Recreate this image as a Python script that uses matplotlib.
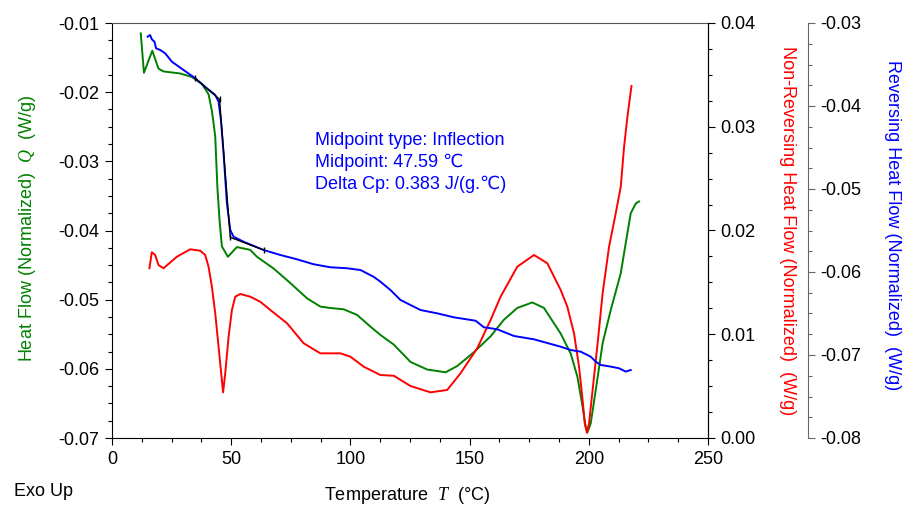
import matplotlib
matplotlib.use("Agg")
import matplotlib.pyplot as plt
from matplotlib.ticker import AutoMinorLocator, MultipleLocator, FormatStrFormatter

plt.rcParams['font.family'] = ['Liberation Sans', 'DejaVu Sans']
plt.rcParams['mathtext.fontset'] = 'custom'
plt.rcParams['mathtext.it'] = 'Liberation Serif:italic'
plt.rcParams['mathtext.rm'] = 'Liberation Sans'

# ---- data ----
green_T = [12.06, 13.4, 16.9, 19.5, 21.6, 28.6, 33.5, 37.7, 40.5, 41.9, 42.6, 43.3, 44.2, 45.1,
           46.1, 48.6, 52.4, 58.0, 60.8, 67.8, 74.8, 81.8, 87.4, 91.6, 97.2, 102.8, 108.4,
           112.6, 118.2, 125.2, 132.2, 139.9, 144.8, 151.8, 158.8, 164.4, 170.0, 176.3, 181.2,
           188.2, 192.4, 195.2, 197.4, 198.7, 199.4, 200.8, 202.9, 205.8, 209.2, 213.4, 215.5,
           217.6, 219.7, 221.1]
green_Q = [-0.0115, -0.0172, -0.0140, -0.0166, -0.0170, -0.0173, -0.0178, -0.0188, -0.0203,
           -0.0227, -0.0245, -0.0264, -0.0337, -0.0385, -0.0423, -0.0438, -0.0424, -0.0428,
           -0.0438, -0.0455, -0.0476, -0.0498, -0.0510, -0.0512, -0.0514, -0.0522, -0.0539,
           -0.0551, -0.0565, -0.0590, -0.0601, -0.0605, -0.0596, -0.0576, -0.0553, -0.0529,
           -0.0512, -0.0504, -0.0512, -0.0549, -0.0578, -0.0611, -0.0655, -0.0684, -0.0692,
           -0.0679, -0.0631, -0.0563, -0.0515, -0.0462, -0.0418, -0.0375, -0.0361, -0.0358]

red_T = [15.7, 16.7, 18.1, 19.5, 21.6, 27.2, 32.8, 37.0, 39.1, 40.5, 41.9, 43.3, 44.7, 45.8,
         46.6, 47.5, 48.9, 50.3, 51.7, 53.8, 58.0, 62.2, 66.4, 73.4, 80.4, 87.4, 95.8, 100.0,
         105.6, 112.6, 118.2, 125.2, 133.6, 140.6, 146.2, 153.2, 158.8, 163.0, 170.0, 177.0,
         182.6, 188.2, 191.0, 193.8, 195.9, 197.4, 198.3, 199.2, 200.1, 201.6, 203.7, 205.8,
         208.5, 211.3, 213.4, 214.8, 216.2, 217.9]
red_R = [0.01636, 0.0179, 0.01764, 0.01667, 0.01636, 0.01747, 0.01819, 0.01805, 0.01764,
         0.01651, 0.01458, 0.01202, 0.0088, 0.00624, 0.0044, 0.00624, 0.00976, 0.01234,
         0.01362, 0.01388, 0.01362, 0.01313, 0.01234, 0.01106, 0.00913, 0.00816, 0.00816,
         0.00784, 0.00687, 0.00607, 0.0060, 0.00501, 0.0044, 0.00463, 0.00624, 0.00865,
         0.01137, 0.01362, 0.01651, 0.01764, 0.01684, 0.01427, 0.01265, 0.01009, 0.00687,
         0.00366, 0.00142, 0.00051, 0.00142, 0.00463, 0.00913, 0.01395, 0.01844, 0.02166,
         0.02422, 0.02808, 0.03097, 0.03393]

blue_T = [14.96, 15.97, 16.7, 17.8, 18.5, 20.2, 22.3, 25.1, 30.0, 34.9, 39.8, 43.3, 44.7,
          45.7, 46.8, 48.2, 49.6, 51.0, 55.2, 63.6, 70.6, 77.6, 84.6, 91.6, 98.6, 104.2,
          109.7, 112.6, 116.8, 121.0, 129.4, 136.4, 143.4, 152.5, 156.0, 161.6, 168.6, 177.0,
          188.2, 192.4, 196.6, 200.8, 202.9, 205.0, 209.2, 212.7, 215.5, 217.6]
blue_B = [-0.03165, -0.03145, -0.03196, -0.03225, -0.03305, -0.03325, -0.03365, -0.03466,
          -0.03566, -0.03666, -0.03787, -0.03867, -0.03948, -0.04169, -0.0457, -0.05172,
          -0.05494, -0.05575, -0.05635, -0.05735, -0.05795, -0.05847, -0.05907, -0.05943,
          -0.05955, -0.05976, -0.06057, -0.06117, -0.06217, -0.06337, -0.06458, -0.06498,
          -0.06546, -0.06587, -0.06666, -0.0669, -0.06771, -0.06811, -0.06900, -0.06940,
          -0.06960, -0.07020, -0.07080, -0.07120, -0.07140, -0.07160, -0.07200, -0.07181]

tan_T = [34.9, 45.1, 49.6, 63.6]
tan_B = [-0.03666, -0.03919, -0.05582, -0.05735]

annot_lines = ["Midpoint type: Inflection", "Midpoint: 47.59 \u2103", "Delta Cp: 0.383 J/(g.\u2103)"]

GREEN = '#008000'
RED = '#ff0000'
BLUE = '#0000ff'
FS = 13

fig = plt.figure(figsize=(9.04, 5.07), dpi=100)
W = 708 - 112
ax = fig.add_axes([112/904, 1-438/507, W/904, (438-23)/507])
ax2 = ax.twinx()
ax3 = ax.twinx()
ax3.spines['right'].set_position(('axes', (808-112)/W))

ax.plot(green_T, green_Q, color=GREEN, lw=1.4)
ax2.plot(red_T, red_R, color=RED, lw=1.4)
ax3.plot(blue_T, blue_B, color=BLUE, lw=1.4)
ax3.plot(tan_T, tan_B, color='black', lw=1.0, marker='|', ms=5, mew=1.0)

ax.set_xlim(0, 250)
ax.set_ylim(-0.07, -0.01)
ax2.set_ylim(0.0, 0.04)
ax3.set_ylim(-0.08, -0.03)

ax.xaxis.set_major_locator(MultipleLocator(50))
ax.xaxis.set_minor_locator(AutoMinorLocator(4))
for a in (ax, ax2, ax3):
    a.yaxis.set_major_locator(MultipleLocator(0.01))
    a.yaxis.set_minor_locator(AutoMinorLocator(4))
    a.yaxis.set_major_formatter(FormatStrFormatter('%.2f'))
    a.tick_params(which='major', direction='out', length=5, labelsize=FS, width=0.8, pad=4)
    a.tick_params(which='minor', direction='out', length=3, width=0.8)

ax.spines['top'].set_color('#555555')
for a in (ax2, ax3):
    for s in ('top', 'left', 'bottom'):
        a.spines[s].set_visible(False)
ax3.spines['right'].set_color('#666666')
ax3.tick_params(axis='y', which='both', color='#666666')

ax.set_ylabel("Heat Flow (Normalized)  $Q$  (W/g)", color=GREEN, fontsize=FS, va='center')
ax.yaxis.set_label_coords((27-112)/W, (438-229)/415)
ax2.set_ylabel("Non-Reversing Heat Flow (Normalized)  (W/g)", color=RED, fontsize=FS,
               rotation=-90, va='center', ha='center')
ax2.yaxis.set_label_coords((788-112)/W, 0.5)
ax3.set_ylabel("Reversing Heat Flow (Normalized)  (W/g)", color=BLUE, fontsize=FS,
               rotation=-90, va='center', ha='center')
ax3.yaxis.set_label_coords((893-112)/W, (438-225)/415)
ax.set_xlabel("Temperature  $T$  (\u00b0C)", fontsize=FS, va='center')
ax.xaxis.set_label_coords((407-112)/W, -(495-438)/415)

fig.text(14/904, 1-492/507, "Exo Up", fontsize=FS, va='center', ha='left')

for i, line in enumerate(annot_lines):
    fig.text(315/904, 1-(140+i*22)/507, line, color=BLUE, fontsize=FS, va='center', ha='left')

fig.savefig("out.png", dpi=100)
